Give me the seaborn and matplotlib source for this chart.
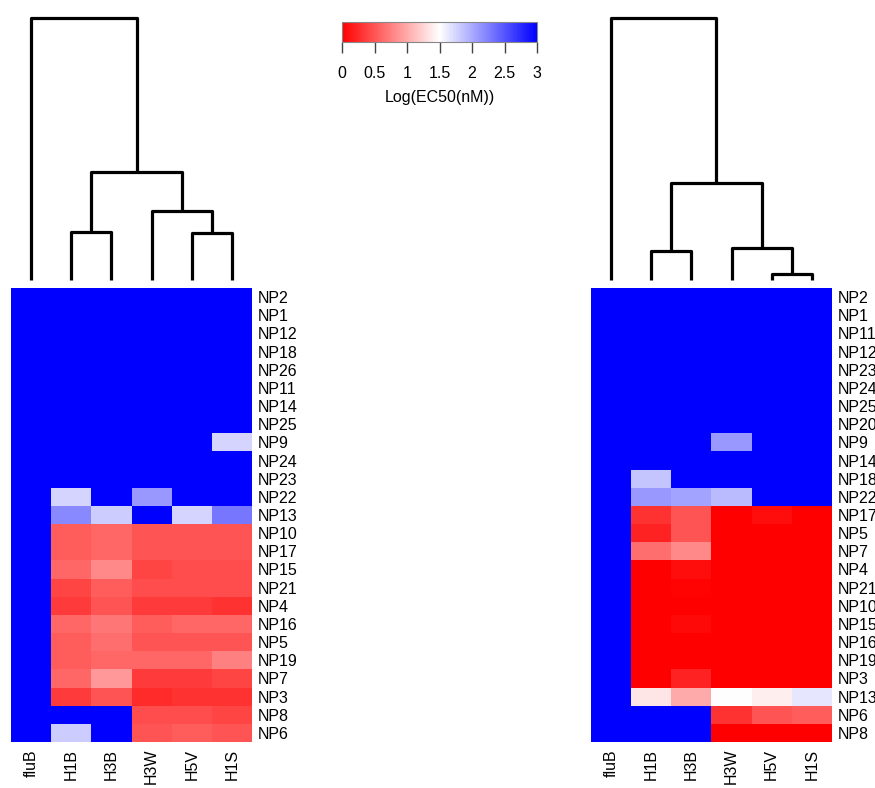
import numpy as np
import pandas as pd
import matplotlib
matplotlib.use("Agg")
import matplotlib.pyplot as plt
from matplotlib.colors import LinearSegmentedColormap, Normalize
from matplotlib.cm import ScalarMappable
import seaborn as sns

plt.rcParams["font.family"] = ["Liberation Sans", "DejaVu Sans"]

# Colonnes (souches) dans l'ordre du dendrogramme
cols = ["fluB", "H1B", "H3B", "H3W", "H5V", "H1S"]

# Panneau gauche
rows_left = ["NP2", "NP1", "NP12", "NP18", "NP26", "NP11", "NP14", "NP25", "NP9",
             "NP24", "NP23", "NP22", "NP13", "NP10", "NP17", "NP15", "NP21", "NP4",
             "NP16", "NP5", "NP19", "NP7", "NP3", "NP8", "NP6"]
vals_left = [
    [3, 3, 3, 3, 3, 3],
    [3, 3, 3, 3, 3, 3],
    [3, 3, 3, 3, 3, 3],
    [3, 3, 3, 3, 3, 3],
    [3, 3, 3, 3, 3, 3],
    [3, 3, 3, 3, 3, 3],
    [3, 3, 3, 3, 3, 3],
    [3, 3, 3, 3, 3, 3],
    [3, 3, 3, 3, 3, 1.75],
    [3, 3, 3, 3, 3, 3],
    [3, 3, 3, 3, 3, 3],
    [3, 1.75, 3, 2.1, 3, 3],
    [3, 2.2, 1.8, 3, 1.75, 2.3],
    [3, 0.55, 0.6, 0.5, 0.5, 0.5],
    [3, 0.55, 0.6, 0.5, 0.5, 0.5],
    [3, 0.6, 0.8, 0.4, 0.45, 0.45],
    [3, 0.4, 0.55, 0.45, 0.45, 0.45],
    [3, 0.35, 0.5, 0.35, 0.35, 0.3],
    [3, 0.6, 0.7, 0.55, 0.6, 0.6],
    [3, 0.55, 0.65, 0.5, 0.5, 0.5],
    [3, 0.55, 0.6, 0.6, 0.6, 0.75],
    [3, 0.6, 0.9, 0.35, 0.35, 0.4],
    [3, 0.35, 0.5, 0.25, 0.3, 0.3],
    [3, 3, 3, 0.45, 0.45, 0.4],
    [3, 1.8, 3, 0.5, 0.55, 0.5],
]
# fusions (enfant a, enfant b, hauteur) ; feuilles 0..5, clusters 6..
links_left = [(1, 2, 49), (4, 5, 48), (3, 7, 71), (6, 8, 110), (0, 9, 268)]

# Panneau droit
rows_right = ["NP2", "NP1", "NP11", "NP12", "NP23", "NP24", "NP25", "NP20", "NP9",
              "NP14", "NP18", "NP22", "NP17", "NP5", "NP7", "NP4", "NP21", "NP10",
              "NP15", "NP16", "NP19", "NP3", "NP13", "NP6", "NP8"]
vals_right = [
    [3, 3, 3, 3, 3, 3],
    [3, 3, 3, 3, 3, 3],
    [3, 3, 3, 3, 3, 3],
    [3, 3, 3, 3, 3, 3],
    [3, 3, 3, 3, 3, 3],
    [3, 3, 3, 3, 3, 3],
    [3, 3, 3, 3, 3, 3],
    [3, 3, 3, 3, 3, 3],
    [3, 3, 3, 2.1, 3, 3],
    [3, 3, 3, 3, 3, 3],
    [3, 1.85, 3, 3, 3, 3],
    [3, 2.1, 2.05, 1.9, 3, 3],
    [3, 0.3, 0.5, 0.0, 0.08, 0.0],
    [3, 0.2, 0.5, 0.0, 0.0, 0.0],
    [3, 0.65, 0.8, 0.0, 0.0, 0.0],
    [3, 0.0, 0.08, 0.0, 0.0, 0.0],
    [3, 0.0, 0.02, 0.0, 0.0, 0.0],
    [3, 0.0, 0.0, 0.0, 0.0, 0.0],
    [3, 0.0, 0.05, 0.0, 0.0, 0.0],
    [3, 0.0, 0.0, 0.0, 0.0, 0.0],
    [3, 0.0, 0.0, 0.0, 0.0, 0.0],
    [3, 0.0, 0.2, 0.0, 0.0, 0.0],
    [3, 1.35, 1.0, 1.5, 1.4, 1.65],
    [3, 3, 3, 0.3, 0.5, 0.55],
    [3, 3, 3, 0.0, 0.0, 0.0],
]
links_right = [(1, 2, 30), (4, 5, 6), (3, 7, 33), (6, 8, 99), (0, 9, 268)]

cmap = LinearSegmentedColormap.from_list("rwb", ["#ff0000", "#ffffff", "#0000ff"])
vmin, vmax = 0, 3
fs = 11.5


def draw_dendro(ax, links, n):
    xs = {i: i + 0.5 for i in range(n)}
    hs = {i: 0 for i in range(n)}
    for k, (a, b, h) in enumerate(links):
        ax.plot([xs[a], xs[a], xs[b], xs[b]], [hs[a], h, h, hs[b]],
                color="black", lw=2.3, solid_capstyle="butt", clip_on=False)
        xs[n + k] = (xs[a] + xs[b]) / 2
        hs[n + k] = h
    ax.set_xlim(0, n)
    ax.set_ylim(0, max(h for _, _, h in links))
    ax.axis("off")


def draw_panel(fig, x0, rows, vals, links):
    df = pd.DataFrame(vals, index=rows, columns=cols)
    ax = fig.add_axes([x0, 0.0584, 0.2754, 0.5761])
    sns.heatmap(df, ax=ax, cmap=cmap, vmin=vmin, vmax=vmax, cbar=False,
                xticklabels=True, yticklabels=True)
    ax.yaxis.tick_right()
    ax.tick_params(axis="both", length=0, labelsize=fs)
    ax.tick_params(axis="y", pad=4)
    ax.tick_params(axis="x", pad=5)
    plt.setp(ax.get_yticklabels(), rotation=0, ha="left")
    plt.setp(ax.get_xticklabels(), rotation=90)
    dax = fig.add_axes([x0, 0.6447, 0.2754, 0.3325])
    draw_dendro(dax, links, len(cols))


fig = plt.figure(figsize=(8.75, 7.88), dpi=100)
draw_panel(fig, 0.0126, rows_left, vals_left, links_left)
draw_panel(fig, 0.6754, rows_right, vals_right, links_right)

# Barre de couleur
cax = fig.add_axes([0.3909, 0.9467, 0.2229, 0.0254])
cb = fig.colorbar(ScalarMappable(norm=Normalize(vmin, vmax), cmap=cmap), cax=cax,
                  orientation="horizontal", ticks=np.arange(0, 3.01, 0.5))
cb.set_ticklabels(["0", "0.5", "1", "1.5", "2", "2.5", "3"])
cb.outline.set_edgecolor("#888888")
cb.outline.set_linewidth(0.8)
cax.tick_params(length=8, width=1, color="#444444", labelsize=fs, pad=9)
cb.set_label("Log(EC50(nM))", fontsize=fs, labelpad=7)

fig.savefig("out.png", dpi=100)
